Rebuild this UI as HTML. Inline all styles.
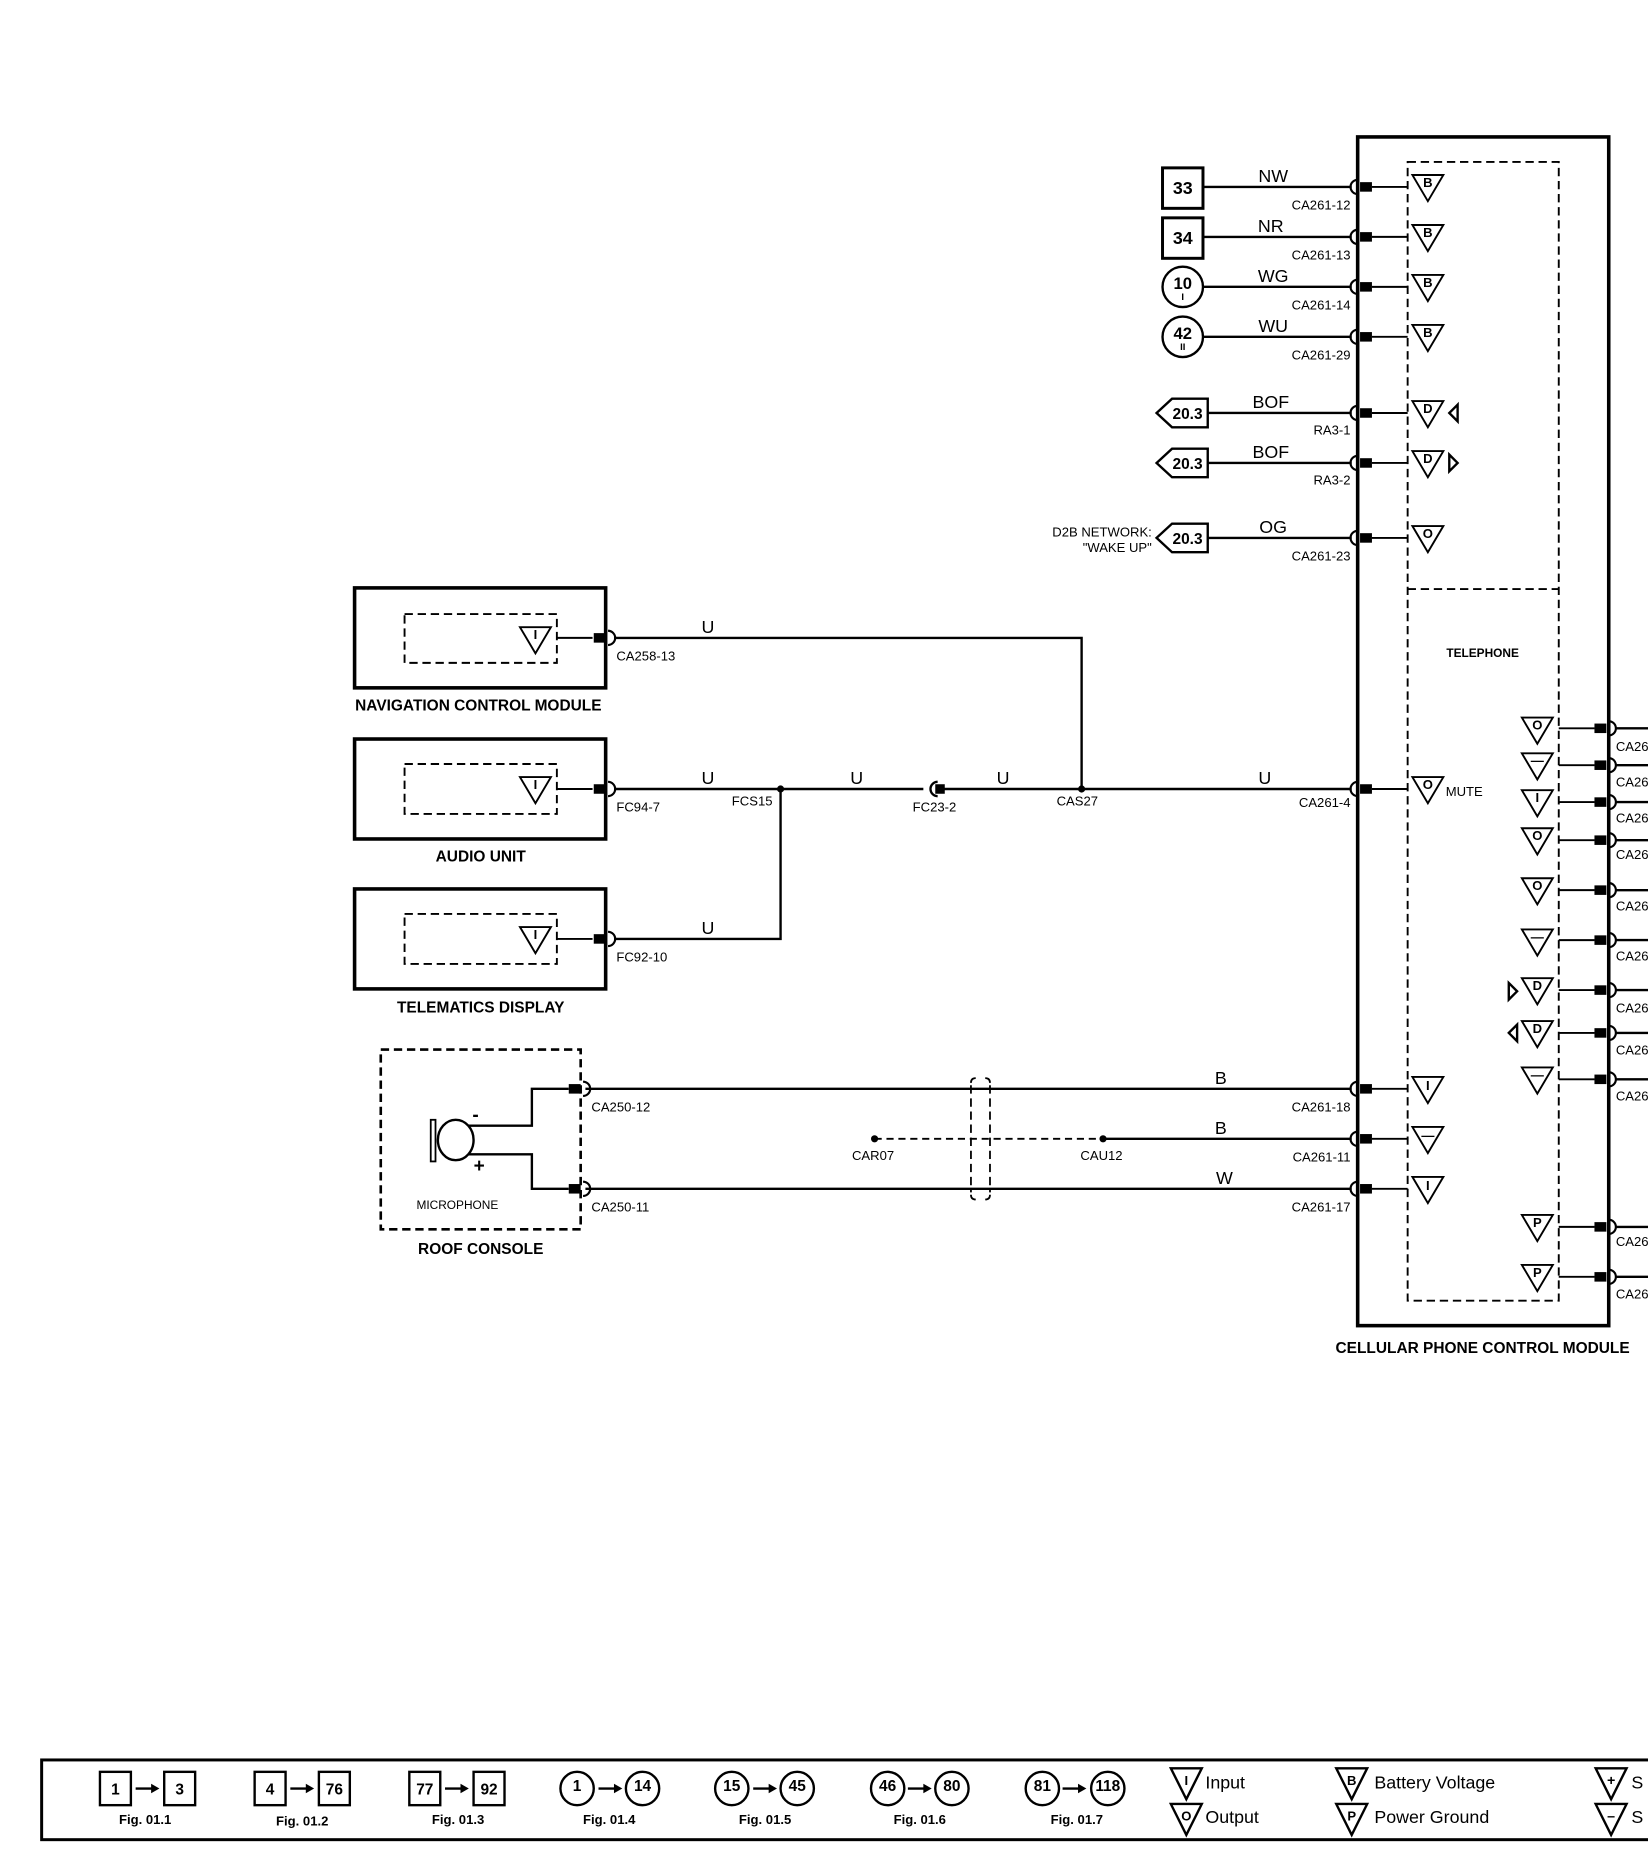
<!DOCTYPE html>
<html><head><meta charset="utf-8"><style>
html,body{margin:0;padding:0;background:#fff;}
svg{display:block;}
text{font-family:"Liberation Sans",sans-serif;fill:#000;}
.w{font-size:15px;}
.p{font-size:11px;}
.t{font-size:13px;font-weight:bold;}
.s{font-size:11px;font-weight:bold;}
</style></head><body>
<svg width="1648" height="1860" viewBox="0 0 1385 1563" xmlns="http://www.w3.org/2000/svg">
<defs>
<g id="tri"><polygon points="0,0 26,0 13,22" fill="#fff" stroke="#000" stroke-width="1.6"/></g>
<g id="lpin"><path d="M0,-6 A6,6 0 0 0 0,6" fill="none" stroke="#000" stroke-width="1.8"/><rect x="2" y="-4" width="10" height="8"/></g>
<g id="rpin"><path d="M0,-6 A6,6 0 0 1 0,6" fill="none" stroke="#000" stroke-width="1.8"/><rect x="-12" y="-4" width="10" height="8"/></g>
<g id="arr"><line x1="-10" y1="0" x2="4" y2="0" stroke="#000" stroke-width="2"/><polygon points="3,-4 10,0 3,4"/></g>
</defs>
<g fill="none" stroke="#000">
<rect x="1141" y="115" width="211" height="999" stroke-width="3"/>
<rect x="1183" y="136" width="127" height="957" stroke-width="1.6" stroke-dasharray="7,4"/>
<line x1="1183" y1="495" x2="1310" y2="495" stroke-width="1.6" stroke-dasharray="7,4"/>
<g stroke-width="2">
<line x1="1011" y1="157" x2="1136" y2="157"/><line x1="1011" y1="199" x2="1136" y2="199"/>
<line x1="1011" y1="241" x2="1136" y2="241"/><line x1="1011" y1="283" x2="1136" y2="283"/>
<line x1="1015" y1="347" x2="1136" y2="347"/><line x1="1015" y1="389" x2="1136" y2="389"/>
<line x1="1015" y1="452" x2="1136" y2="452"/>
</g>
<g stroke-width="1.6">
<line x1="1153" y1="157" x2="1183" y2="157"/><line x1="1153" y1="199" x2="1183" y2="199"/>
<line x1="1153" y1="241" x2="1183" y2="241"/><line x1="1153" y1="283" x2="1183" y2="283"/>
<line x1="1153" y1="347" x2="1183" y2="347"/><line x1="1153" y1="389" x2="1183" y2="389"/>
<line x1="1153" y1="452" x2="1183" y2="452"/><line x1="1153" y1="663" x2="1183" y2="663"/>
<line x1="1153" y1="915" x2="1183" y2="915"/><line x1="1153" y1="957" x2="1183" y2="957"/>
<line x1="1153" y1="999" x2="1183" y2="999"/>
</g>
<rect x="977" y="141" width="34" height="34" stroke-width="2.5"/>
<rect x="977" y="183" width="34" height="34" stroke-width="2.5"/>
<circle cx="994" cy="241" r="17" stroke-width="2"/>
<circle cx="994" cy="283" r="17" stroke-width="2"/>
<polygon points="1015,335 985,335 972,347 985,359 1015,359" stroke-width="2"/>
<polygon points="1015,377 985,377 972,389 985,401 1015,401" stroke-width="2"/>
<polygon points="1015,440 985,440 972,452 985,464 1015,464" stroke-width="2"/>
<g stroke-width="1.6">
<line x1="1310" y1="612" x2="1340" y2="612"/><line x1="1310" y1="643" x2="1340" y2="643"/>
<line x1="1310" y1="674" x2="1340" y2="674"/><line x1="1310" y1="706" x2="1340" y2="706"/>
<line x1="1310" y1="748" x2="1340" y2="748"/><line x1="1310" y1="790" x2="1340" y2="790"/>
<line x1="1310" y1="832" x2="1340" y2="832"/><line x1="1310" y1="868" x2="1340" y2="868"/>
<line x1="1310" y1="907" x2="1340" y2="907"/><line x1="1310" y1="1031" x2="1340" y2="1031"/>
<line x1="1310" y1="1073" x2="1340" y2="1073"/>
</g>
<g stroke-width="2">
<line x1="1358" y1="612" x2="1385" y2="612"/><line x1="1358" y1="643" x2="1385" y2="643"/>
<line x1="1358" y1="674" x2="1385" y2="674"/><line x1="1358" y1="706" x2="1385" y2="706"/>
<line x1="1358" y1="748" x2="1385" y2="748"/><line x1="1358" y1="790" x2="1385" y2="790"/>
<line x1="1358" y1="832" x2="1385" y2="832"/><line x1="1358" y1="868" x2="1385" y2="868"/>
<line x1="1358" y1="907" x2="1385" y2="907"/><line x1="1358" y1="1031" x2="1385" y2="1031"/>
<line x1="1358" y1="1073" x2="1385" y2="1073"/>
</g>
<g stroke-width="3">
<rect x="298" y="494" width="211" height="84"/>
<rect x="298" y="621" width="211" height="84"/>
<rect x="298" y="747" width="211" height="84"/>
</g>
<g stroke-width="1.6" stroke-dasharray="7,4">
<rect x="340" y="516" width="128" height="41"/>
<rect x="340" y="642" width="128" height="42"/>
<rect x="340" y="768" width="128" height="42"/>
</g>
<g stroke-width="1.6">
<line x1="468" y1="536" x2="498" y2="536"/><line x1="468" y1="663" x2="498" y2="663"/><line x1="468" y1="789" x2="498" y2="789"/>
</g>
<g stroke-width="2">
<polyline points="516,536 909,536 909,663"/>
<line x1="516" y1="663" x2="776" y2="663"/>
<line x1="792" y1="663" x2="1136" y2="663"/>
<polyline points="516,789 656,789 656,663"/>
<line x1="492" y1="915" x2="1136" y2="915"/>
<line x1="492" y1="999" x2="1136" y2="999"/>
<line x1="927" y1="957" x2="1136" y2="957"/>
</g>
<line x1="735" y1="957" x2="927" y2="957" stroke-width="1.6" stroke-dasharray="6,4"/>
<path d="M816,910 Q816,906 820,906 M828,906 Q832,906 832,910 M816,1004 Q816,1008 820,1008 M828,1008 Q832,1008 832,1004" stroke-width="1.5"/>
<line x1="816" y1="912" x2="816" y2="1002" stroke-width="1.5" stroke-dasharray="7,4"/>
<line x1="832" y1="912" x2="832" y2="1002" stroke-width="1.5" stroke-dasharray="7,4"/>
<path d="M788,657 A6,6 0 0 0 788,669" stroke-width="2"/>
<rect x="320" y="882" width="168" height="151" stroke-width="2.2" stroke-dasharray="7,4"/>
<polyline points="394,946 447,946 447,915 478,915" stroke-width="2"/>
<polyline points="394,970 447,970 447,999 478,999" stroke-width="2"/>
<rect x="362" y="941" width="4" height="35" stroke-width="1.5"/>
<ellipse cx="383" cy="958" rx="15" ry="17" stroke-width="2"/>
<rect x="35" y="1479" width="1360" height="67" stroke-width="2.5"/>
</g>
<g>
<use href="#lpin" x="1141" y="157"/><use href="#lpin" x="1141" y="199"/><use href="#lpin" x="1141" y="241"/>
<use href="#lpin" x="1141" y="283"/><use href="#lpin" x="1141" y="347"/><use href="#lpin" x="1141" y="389"/>
<use href="#lpin" x="1141" y="452"/><use href="#lpin" x="1141" y="663"/><use href="#lpin" x="1141" y="915"/>
<use href="#lpin" x="1141" y="957"/><use href="#lpin" x="1141" y="999"/>
<use href="#rpin" x="1352" y="612"/><use href="#rpin" x="1352" y="643"/><use href="#rpin" x="1352" y="674"/>
<use href="#rpin" x="1352" y="706"/><use href="#rpin" x="1352" y="748"/><use href="#rpin" x="1352" y="790"/>
<use href="#rpin" x="1352" y="832"/><use href="#rpin" x="1352" y="868"/><use href="#rpin" x="1352" y="907"/>
<use href="#rpin" x="1352" y="1031"/><use href="#rpin" x="1352" y="1073"/>
<use href="#rpin" x="511" y="536"/><use href="#rpin" x="511" y="663"/><use href="#rpin" x="511" y="789"/>
<use href="#rpin" x="490" y="915"/><use href="#rpin" x="490" y="999"/>
<rect x="786" y="659" width="8" height="8"/>
<circle cx="656" cy="663" r="3"/><circle cx="909" cy="663" r="3"/>
<circle cx="735" cy="957" r="3"/><circle cx="927" cy="957" r="3"/>
</g>
<use href="#tri" x="1187" y="147"/><use href="#tri" x="1187" y="189"/><use href="#tri" x="1187" y="231"/><use href="#tri" x="1187" y="273"/>
<use href="#tri" x="1187" y="337"/><use href="#tri" x="1187" y="379"/><use href="#tri" x="1187" y="442"/>
<use href="#tri" x="1187" y="653"/><use href="#tri" x="1187" y="905"/><use href="#tri" x="1187" y="947"/><use href="#tri" x="1187" y="989"/>
<use href="#tri" x="1279" y="603"/><use href="#tri" x="1279" y="633"/><use href="#tri" x="1279" y="664"/><use href="#tri" x="1279" y="696"/>
<use href="#tri" x="1279" y="738"/><use href="#tri" x="1279" y="781"/><use href="#tri" x="1279" y="822"/><use href="#tri" x="1279" y="858"/>
<use href="#tri" x="1279" y="897"/><use href="#tri" x="1279" y="1021"/><use href="#tri" x="1279" y="1063"/>
<use href="#tri" x="437" y="527"/><use href="#tri" x="437" y="653"/><use href="#tri" x="437" y="779"/>
<g fill="none" stroke="#000" stroke-width="2">
<polygon points="1225,340 1218,347 1225,354"/><polygon points="1218,382 1225,389 1218,396"/>
<polygon points="1268,826 1275,833 1268,840"/><polygon points="1275,861 1268,868 1275,875"/>
</g>
<g text-anchor="middle" class="s">
<text x="1200" y="157">B</text><text x="1200" y="199">B</text><text x="1200" y="241">B</text><text x="1200" y="283">B</text>
<text x="1200" y="347">D</text><text x="1200" y="389">D</text><text x="1200" y="452">O</text><text x="1200" y="663">O</text>
<text x="1200" y="916">I</text><text x="1200" y="958">—</text><text x="1200" y="1000">I</text>
<text x="1292" y="613">O</text><text x="1292" y="643">—</text><text x="1292" y="674">I</text><text x="1292" y="706">O</text>
<text x="1292" y="748">O</text><text x="1292" y="791">—</text><text x="1292" y="832">D</text><text x="1292" y="868">D</text>
<text x="1292" y="907">—</text><text x="1292" y="1031">P</text><text x="1292" y="1073">P</text>
<text x="450" y="537">I</text><text x="450" y="663">I</text><text x="450" y="789">I</text>
<text x="994" y="163" font-size="15">33</text><text x="994" y="205" font-size="15">34</text>
<text x="994" y="243" font-size="14">10</text><text x="994" y="252" font-size="8">I</text>
<text x="994" y="285" font-size="14">42</text><text x="994" y="294" font-size="8">II</text>
<text x="998" y="352" font-size="13">20.3</text><text x="998" y="394" font-size="13">20.3</text><text x="998" y="457" font-size="13">20.3</text>
</g>
<g class="w" text-anchor="middle">
<text x="1070" y="153">NW</text><text x="1068" y="195">NR</text><text x="1070" y="237">WG</text><text x="1070" y="279">WU</text>
<text x="1068" y="343">BOF</text><text x="1068" y="385">BOF</text><text x="1070" y="448">OG</text>
<text x="595" y="532">U</text><text x="595" y="659">U</text><text x="720" y="659">U</text><text x="843" y="659">U</text><text x="1063" y="659">U</text>
<text x="595" y="785">U</text><text x="1026" y="911">B</text><text x="1026" y="953">B</text><text x="1029" y="995">W</text>
</g>
<g class="p" text-anchor="end">
<text x="1135" y="176">CA261-12</text><text x="1135" y="218">CA261-13</text><text x="1135" y="260">CA261-14</text><text x="1135" y="302">CA261-29</text>
<text x="1135" y="365">RA3-1</text><text x="1135" y="407">RA3-2</text><text x="1135" y="471">CA261-23</text>
<text x="1135" y="678">CA261-4</text><text x="1135" y="934">CA261-18</text><text x="1135" y="976">CA261-11</text><text x="1135" y="1018">CA261-17</text>
<text x="968" y="451">D2B NETWORK:</text><text x="968" y="464">"WAKE UP"</text>
</g>
<g class="p">
<text x="518" y="555">CA258-13</text><text x="518" y="682">FC94-7</text><text x="615" y="677">FCS15</text>
<text x="767" y="682">FC23-2</text><text x="888" y="677">CAS27</text><text x="518" y="808">FC92-10</text>
<text x="497" y="934">CA250-12</text><text x="497" y="1018">CA250-11</text>
<text x="716" y="975">CAR07</text><text x="908" y="975">CAU12</text>
<text x="350" y="1016" font-size="10">MICROPHONE</text>
<text x="1215" y="669">MUTE</text>
<text x="1358" y="631">CA26</text><text x="1358" y="661">CA26</text><text x="1358" y="691">CA26</text><text x="1358" y="722">CA26</text>
<text x="1358" y="765">CA26</text><text x="1358" y="807">CA26</text><text x="1358" y="851">CA26</text><text x="1358" y="886">CA26</text>
<text x="1358" y="925">CA26</text><text x="1358" y="1047">CA26</text><text x="1358" y="1091">CA26</text>
</g>
<text x="397" y="942" font-size="16" font-weight="bold">-</text>
<text x="398" y="985" font-size="16" font-weight="bold">+</text>
<g class="t" text-anchor="middle">
<text x="402" y="597">NAVIGATION CONTROL MODULE</text>
<text x="404" y="724">AUDIO UNIT</text>
<text x="404" y="851">TELEMATICS DISPLAY</text>
<text x="404" y="1054">ROOF CONSOLE</text>
<text x="1246" y="1137">CELLULAR PHONE CONTROL MODULE</text>
<text x="1246" y="552" font-size="10">TELEPHONE</text>
</g>
<g fill="none" stroke="#000" stroke-width="2">
<rect x="84" y="1489" width="26" height="28"/><rect x="138" y="1489" width="26" height="28"/>
<rect x="214" y="1489" width="26" height="28"/><rect x="268" y="1489" width="26" height="28"/>
<rect x="344" y="1489" width="26" height="28"/><rect x="398" y="1489" width="26" height="28"/>
<circle cx="485" cy="1503" r="14"/><circle cx="540" cy="1503" r="14"/>
<circle cx="615" cy="1503" r="14"/><circle cx="670" cy="1503" r="14"/>
<circle cx="746" cy="1503" r="14"/><circle cx="800" cy="1503" r="14"/>
<circle cx="876" cy="1503" r="14"/><circle cx="931" cy="1503" r="14"/>
<polygon points="984,1486 1010,1486 997,1512" fill="#fff"/><polygon points="984,1516 1010,1516 997,1542" fill="#fff"/>
<polygon points="1123,1486 1149,1486 1136,1512" fill="#fff"/><polygon points="1123,1516 1149,1516 1136,1542" fill="#fff"/>
<polygon points="1341,1486 1367,1486 1354,1512" fill="#fff"/><polygon points="1341,1516 1367,1516 1354,1542" fill="#fff"/>
</g>
<use href="#arr" x="124" y="1503"/><use href="#arr" x="254" y="1503"/><use href="#arr" x="384" y="1503"/>
<use href="#arr" x="513" y="1503"/><use href="#arr" x="643" y="1503"/><use href="#arr" x="773" y="1503"/><use href="#arr" x="903" y="1503"/>
<g text-anchor="middle" font-weight="bold">
<text x="97" y="1508" font-size="13">1</text><text x="151" y="1508" font-size="13">3</text>
<text x="227" y="1508" font-size="13">4</text><text x="281" y="1508" font-size="13">76</text>
<text x="357" y="1508" font-size="13">77</text><text x="411" y="1508" font-size="13">92</text>
<text x="485" y="1505" font-size="13">1</text><text x="540" y="1505" font-size="13">14</text>
<text x="615" y="1505" font-size="13">15</text><text x="670" y="1505" font-size="13">45</text>
<text x="746" y="1505" font-size="13">46</text><text x="800" y="1505" font-size="13">80</text>
<text x="876" y="1505" font-size="13">81</text><text x="931" y="1505" font-size="13">118</text>
<text x="122" y="1533" font-size="11">Fig. 01.1</text><text x="254" y="1534" font-size="11">Fig. 01.2</text>
<text x="385" y="1533" font-size="11">Fig. 01.3</text><text x="512" y="1533" font-size="11">Fig. 01.4</text>
<text x="643" y="1533" font-size="11">Fig. 01.5</text><text x="773" y="1533" font-size="11">Fig. 01.6</text>
<text x="905" y="1533" font-size="11">Fig. 01.7</text>
<text x="997" y="1500" font-size="11">I</text><text x="997" y="1530" font-size="11">O</text>
<text x="1136" y="1500" font-size="11">B</text><text x="1136" y="1530" font-size="11">P</text>
<text x="1354" y="1500" font-size="12">+</text><text x="1354" y="1530" font-size="12">–</text>
</g>
<g font-size="15">
<text x="1013" y="1503">Input</text><text x="1013" y="1532">Output</text>
<text x="1155" y="1503">Battery Voltage</text><text x="1155" y="1532">Power Ground</text>
<text x="1371" y="1503">S</text><text x="1371" y="1532">S</text>
</g>
</svg>
</body></html>
